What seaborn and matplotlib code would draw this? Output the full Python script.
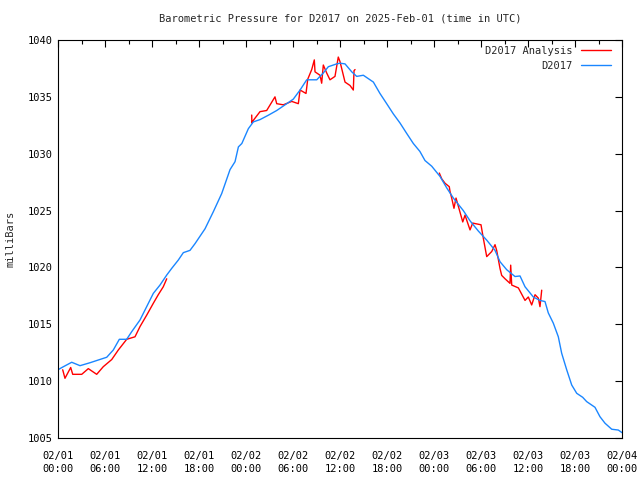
## 1. Import libraries
import pandas as pd
import matplotlib
matplotlib.use('Agg')
import matplotlib.pyplot as plt
import matplotlib.dates as mdates
from matplotlib.lines import Line2D
import seaborn as sns

## 2. Data (hours after 2025-02-01 00:00 UTC, pressure in mb)
start = pd.Timestamp('2025-02-01 00:00')

# 2.1 D2017 observations
obs_hours = [0.0, 0.5, 1.75, 2.81, 4.09, 5.15, 6.22, 7.06, 7.83, 8.77, 9.41,
             10.47, 11.32, 12.17, 13.02, 13.88, 14.52, 15.36, 16.0, 16.85,
             17.5, 18.77, 19.83, 20.9, 21.96, 22.6, 23.03, 23.47, 24.3, 24.94,
             25.79, 26.89, 27.92, 29.2, 30.04, 30.9, 31.75, 33.03, 33.87,
             34.51, 35.58, 36.0, 36.64, 37.5, 38.13, 38.98, 40.26, 41.1, 41.96,
             42.81, 43.66, 44.5, 45.36, 46.2, 46.85, 47.71, 48.77, 49.62,
             50.47, 51.74, 52.6, 53.66, 54.73, 55.79, 56.43, 57.28, 58.34,
             58.98, 59.62, 60.68, 61.53, 62.17, 62.59, 63.23, 63.87, 64.3,
             64.94, 65.58, 66.22, 66.98, 67.49, 68.55, 69.19, 69.83, 70.69,
             71.53, 72.0]
obs_mbar = [1011.0, 1011.2, 1011.66, 1011.36, 1011.62, 1011.86, 1012.1,
            1012.74, 1013.68, 1013.68, 1014.35, 1015.38, 1016.55, 1017.72,
            1018.45, 1019.33, 1019.92, 1020.65, 1021.3, 1021.5, 1022.1,
            1023.4, 1024.9, 1026.5, 1028.6, 1029.3, 1030.6, 1030.9, 1032.2,
            1032.8, 1033.0, 1033.4, 1033.8, 1034.4, 1034.8, 1035.6, 1036.5,
            1036.5, 1037.1, 1037.65, 1037.9, 1037.96, 1037.9, 1037.2, 1036.8,
            1036.9, 1036.3, 1035.3, 1034.4, 1033.5, 1032.7, 1031.8, 1030.9,
            1030.2, 1029.4, 1028.9, 1028.0, 1027.0, 1026.1, 1025.0, 1024.1,
            1023.2, 1022.4, 1021.5, 1020.5, 1019.8, 1019.2, 1019.25, 1018.3,
            1017.4, 1017.1, 1017.0, 1016.0, 1015.1, 1013.9, 1012.45, 1011.0,
            1009.66, 1008.93, 1008.58, 1008.2, 1007.7, 1006.87, 1006.3,
            1005.77, 1005.7, 1005.47]

# 2.2 D2017 analysis, three separate runs
ana1_hours = [0.6, 0.89, 1.62, 1.88, 3.03, 3.87, 4.94, 5.78, 6.86, 7.7, 8.77,
              9.83, 10.47, 11.32, 12.17, 12.8, 13.44, 13.88]
ana1_mbar = [1011.0, 1010.25, 1011.2, 1010.6, 1010.6, 1011.1, 1010.6,
             1011.27, 1011.9, 1012.74, 1013.68, 1013.9, 1014.8, 1015.8,
             1016.85, 1017.6, 1018.3, 1019.0]

ana2_hours = [24.73, 24.75, 24.9, 25.79, 26.64, 27.7, 27.92, 28.76, 29.84,
              30.68, 30.9, 31.66, 31.88, 32.39, 32.72, 32.81, 33.45, 33.66,
              33.87, 34.3, 34.72, 35.36, 35.78, 36.0, 36.64, 37.28, 37.7,
              37.79, 37.92]
ana2_mbar = [1033.4, 1032.7, 1032.9, 1033.7, 1033.8, 1035.0, 1034.4, 1034.3,
             1034.6, 1034.4, 1035.6, 1035.3, 1036.55, 1037.4, 1038.25, 1037.2,
             1036.9, 1036.2, 1037.8, 1037.1, 1036.5, 1036.8, 1038.5, 1038.1,
             1036.3, 1036.0, 1035.6, 1037.3, 1037.4]

ana3_hours = [48.68, 48.98, 49.41, 49.95, 50.04, 50.26, 50.55, 50.81, 51.1,
              51.67, 51.96, 52.6, 52.94, 54.0, 54.3, 54.73, 55.37, 55.79,
              56.0, 56.43, 56.64, 57.07, 57.7, 57.79, 57.92, 58.77, 59.62,
              60.04, 60.47, 60.9, 61.32, 61.53, 61.75]
ana3_mbar = [1028.3, 1027.8, 1027.4, 1027.1, 1026.7, 1026.1, 1025.2, 1026.1,
             1025.4, 1024.0, 1024.6, 1023.3, 1023.9, 1023.75, 1022.55,
             1020.95, 1021.4, 1022.0, 1021.5, 1019.9, 1019.3, 1019.0, 1018.6,
             1020.2, 1018.45, 1018.2, 1017.1, 1017.4, 1016.7, 1017.6, 1017.3,
             1016.55, 1018.0]

obs = pd.DataFrame({'time': start + pd.to_timedelta(obs_hours, unit='h'),
                    'mbar': obs_mbar})
runs = []
for i, (hrs, mb) in enumerate([(ana1_hours, ana1_mbar),
                               (ana2_hours, ana2_mbar),
                               (ana3_hours, ana3_mbar)]):
    runs.append(pd.DataFrame({'time': start + pd.to_timedelta(hrs, unit='h'),
                              'mbar': mb, 'run': i}))
ana = pd.concat(runs, ignore_index=True)

## 3. Plot
sns.set_theme(style='white')
plt.rcParams['font.family'] = ['DejaVu Sans Mono']
plt.rcParams['font.size'] = 7.5

red = '#ff0000'
blue = '#1a86ff'

fig = plt.figure(figsize=(6.4, 4.8), dpi=100)
ax = fig.add_axes([58 / 640, 42 / 480, 564 / 640, 398 / 480])

sns.lineplot(data=ana, x='time', y='mbar', units='run', estimator=None,
             color=red, lw=1, ax=ax, legend=False)
sns.lineplot(data=obs, x='time', y='mbar', color=blue, lw=1, ax=ax,
             legend=False)

ax.set_xlim(start, start + pd.Timedelta(hours=72))
ax.set_ylim(1005, 1040)
ax.set_yticks(range(1005, 1041, 5))
ax.xaxis.set_major_locator(mdates.HourLocator(byhour=[0, 6, 12, 18]))
ax.xaxis.set_minor_locator(mdates.HourLocator(byhour=[3, 9, 15, 21]))
ax.xaxis.set_major_formatter(mdates.DateFormatter('%m/%d\n%H:%M'))
ax.tick_params(which='both', direction='in', top=True, right=True,
               colors='black', labelsize=7.5, width=0.8)
ax.tick_params(which='major', length=5)
ax.tick_params(which='minor', length=3)
ax.tick_params(axis='x', pad=9)
ax.tick_params(axis='y', pad=4)
for lbl in ax.get_xticklabels():
    lbl.set_linespacing(1.5)
for sp in ax.spines.values():
    sp.set_color('black')
    sp.set_linewidth(0.8)

ax.set_xlabel('')
ax.set_ylabel('milliBars', fontsize=7.5)
ax.yaxis.set_label_coords(-0.076, 0.5)
ax.set_title('Barometric Pressure for D2017 on 2025-Feb-01 (time in UTC)',
             fontsize=7.5, pad=13)

handles = [Line2D([], [], color=red, lw=1), Line2D([], [], color=blue, lw=1)]
ax.legend(handles, ['D2017 Analysis', 'D2017'], loc='upper right',
          bbox_to_anchor=(1 - 11 / 564, 1 - 6 / 398), frameon=False,
          markerfirst=False, handlelength=2.9, handletextpad=0.8,
          labelspacing=0.45, borderpad=0, borderaxespad=0, fontsize=7.5)

fig.savefig('out.png', dpi=100)
